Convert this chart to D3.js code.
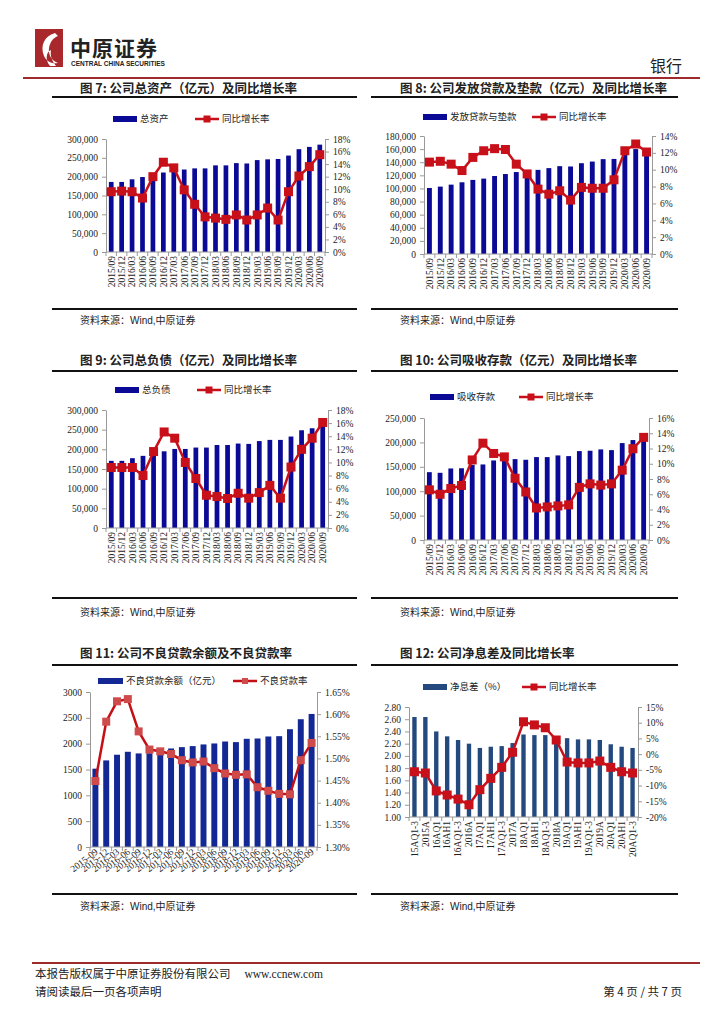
<!DOCTYPE html>
<html><head><meta charset="utf-8">
<script src="https://cdn.jsdelivr.net/npm/d3@7"></script>
<style>
body{margin:0;background:#fff;}
svg text{font-family:"Liberation Serif","Noto Sans CJK SC",serif;fill:#222;}
.cn{font-family:"Noto Sans CJK SC",sans-serif;}
</style></head><body><div id="root"></div>
<script>
// 季度 (图7-10)
const quarters = ['2015/09','2015/12','2016/03','2016/06','2016/09','2016/12','2017/03','2017/06','2017/09','2017/12',
  '2018/03','2018/06','2018/09','2018/12','2019/03','2019/06','2019/09','2019/12','2020/03','2020/06','2020/09'];
// 图7 总资产 + 同比
const assets = [186000,186000,193000,199000,203000,211000,218000,219000,222000,222000,230000,230000,236000,235000,244000,246000,247000,256000,273000,279000,285000];
const assetsYoy = [9.6,9.7,9.6,8.6,12.0,14.3,13.4,9.9,7.6,5.6,5.4,5.2,5.9,5.1,5.9,7.0,5.1,9.6,12.1,13.6,15.5];
// 图8 发放贷款与垫款 + 同比
const loans = [100700,102800,105800,109400,113000,115000,119000,122000,125000,128000,128300,131000,134000,133500,138500,141000,144700,145000,152000,160000,157000];
const loansYoy = [10.9,11.0,10.66,9.9,11.46,12.25,12.5,12.4,10.66,9.5,7.7,7.1,7.5,6.4,7.9,7.8,7.8,8.8,12.25,13.05,12.1];
// 图9 总负债 + 同比
const liab = [170700,170700,177500,183400,192000,195000,201000,201000,204500,204500,211000,211000,214700,213800,221000,224000,224000,232500,248500,253600,265000];
const liabYoy = [9.23,9.23,9.23,8.0,11.66,14.65,13.7,10.0,7.55,5.0,4.8,4.5,5.3,4.55,5.4,6.5,4.55,9.3,12.0,13.7,16.1];
// 图10 吸收存款 + 同比
const deposits = [139000,137700,146600,147000,154000,154800,163000,166000,165750,164400,169900,169900,173300,171900,182200,182900,185600,184200,198600,204800,210000];
const depositsYoy = [6.58,6.0,6.75,7.15,10.5,12.7,11.35,10.9,8.1,6.3,4.2,4.34,4.47,4.6,6.9,7.36,7.2,7.36,9.16,11.97,13.46];
// 图11 不良贷款余额 + 不良贷款率
const nplCats = ['2015-09','2015-12','2016-03','2016-06','2016-09','2016-12','2017-03','2017-06','2017-09','2017-12',
  '2018-03','2018-06','2018-09','2018-12','2019-03','2019-06','2019-09','2019-12','2020-03','2020-06','2020-09'];
const npl = [1516,1676,1786,1843,1811,1815,1870,1907,1933,1953,1985,2004,2042,2030,2094,2100,2139,2145,2280,2473,2575];
const nplRate = [1.449,1.583,1.629,1.634,1.561,1.520,1.516,1.510,1.496,1.491,1.493,1.478,1.466,1.463,1.464,1.435,1.427,1.420,1.419,1.496,1.535];
// 图12 净息差 + 同比
const nimCats = ['15AQ1-3','2015A','16AQ1','16AH1','16AQ1-3','2016A','17AQ1','17AH1','17AQ1-3','2017A',
  '18AQ1','18AH1','18AQ1-3','2018A','19AQ1','19AH1','19AQ1-3','2019A','20AQ1','20AH1','20AQ1-3'];
const nim = [2.636,2.636,2.40,2.32,2.26,2.20,2.13,2.15,2.16,2.21,2.35,2.34,2.34,2.28,2.29,2.27,2.27,2.26,2.19,2.15,2.13];
const nimYoy = [-5.6,-6.0,-11.7,-13.0,-14.3,-16.1,-11.3,-7.7,-4.2,0.6,10.3,9.3,8.4,4.5,-2.5,-2.8,-2.8,-2.2,-4.2,-5.6,-6.0];

const svg = d3.select('#root').append('svg').attr('width',724).attr('height',1024);

// ---- 页眉
svg.append('rect').attr('x',35).attr('y',29).attr('width',28).attr('height',38).attr('fill','#a8282b');
svg.append('path').attr('d','M55,33 C44,36 40,46 44,56 C47,62 52,64 58,63 C52,61 48,55 49,48 C50,42 53,38 58,36 Z M50,66 C45,60 46,52 51,50 C50,56 52,61 56,66 Z')
  .attr('fill','#fff');
svg.append('text').attr('class','cn').attr('x',70).attr('y',56).attr('font-size',21).attr('font-weight','bold')
  .attr('letter-spacing',1).text('中原证券');
svg.append('text').attr('x',71).attr('y',66).attr('font-size',6.5).attr('font-weight','bold')
  .style('font-family','Liberation Sans').text('CENTRAL CHINA SECURITIES');
svg.append('text').attr('class','cn').attr('x',682).attr('y',72).attr('text-anchor','end').attr('font-size',16).attr('fill','#333').text('银行');
svg.append('line').attr('x1',23).attr('x2',700).attr('y1',78).attr('y2',78).attr('stroke','#9e2a2b').attr('stroke-width',2);

// ---- 标题 / 资料来源
function section(x, lineX1, lineX2, titleY, lineY, srcLineY, srcY, title) {
  svg.append('text').attr('class','cn').attr('x',x).attr('y',titleY).attr('font-size',12.5).attr('font-weight','bold').text(title);
  svg.append('line').attr('x1',lineX1).attr('x2',lineX2).attr('y1',lineY).attr('y2',lineY).attr('stroke','#111').attr('stroke-width',2);
  svg.append('line').attr('x1',lineX1).attr('x2',lineX2).attr('y1',srcLineY).attr('y2',srcLineY).attr('stroke','#111').attr('stroke-width',2);
  const t = svg.append('text').attr('class','cn').attr('x',x).attr('y',srcY).attr('font-size',10).attr('fill','#555');
  t.append('tspan').text('资料来源：');
  t.append('tspan').style('font-family','Liberation Sans').attr('fill','#222').text('Wind,');
  t.append('tspan').text('中原证券');
}
section(80,52,357,93,97,309,324,'图 7:  公司总资产（亿元）及同比增长率');
section(400,371,678,93,97,309,324,'图 8:  公司发放贷款及垫款（亿元）及同比增长率');
section(80,52,357,365,371,598,616,'图 9:  公司总负债（亿元）及同比增长率');
section(400,371,678,365,371,598,616,'图 10:  公司吸收存款（亿元）及同比增长率');
section(80,52,357,658,665,894,910,'图 11:  公司不良贷款余额及不良贷款率');
section(400,371,678,658,665,894,910,'图 12:  公司净息差及同比增长率');

// ---- 通用图表
function drawChart(c) {
  const g = svg.append('g');
  const x = d3.scaleBand().domain(c.cats).range([c.left, c.right]);
  const yL = d3.scaleLinear().domain(c.yL.domain).range([c.bottom, c.top]);
  const yR = d3.scaleLinear().domain(c.yR.domain).range([c.bottom, c.top]);
  const bw = x.bandwidth() * (c.barRatio || 0.45);

  // bars
  g.selectAll('rect.bar').data(c.bars).join('rect')
    .attr('x',(d,i)=> x(c.cats[i]) + (x.bandwidth()-bw)/2)
    .attr('y',d=> yL(d)).attr('width',bw).attr('height',d=> yL(c.yL.domain[0]) - yL(d))
    .attr('fill',c.barColor);

  // axes
  const axL = g.append('g').attr('transform',`translate(${c.left},0)`)
    .call(d3.axisLeft(yL).tickValues(c.yL.ticks).tickFormat(c.yL.fmt).tickSize(4).tickSizeOuter(0).tickPadding(4));
  const axR = g.append('g').attr('transform',`translate(${c.right},0)`)
    .call(d3.axisRight(yR).tickValues(c.yR.ticks).tickFormat(c.yR.fmt).tickSize(4).tickSizeOuter(0).tickPadding(4));
  [axL, axR].forEach(a => {
    a.attr('font-family',null).attr('font-size',null);
    a.selectAll('path,line').attr('stroke','#999');
    a.selectAll('text').attr('font-size',9.5).attr('fill','#333');
  });
  const bottomY = c.bottom;
  g.append('line').attr('x1',c.left).attr('x2',c.right).attr('y1',bottomY).attr('y2',bottomY).attr('stroke','#999');
  const edges = c.cats.map(k => x(k)).concat([c.right]);
  g.selectAll('line.xt').data(edges).join('line')
    .attr('x1',d=>d).attr('x2',d=>d).attr('y1',bottomY).attr('y2',bottomY+4).attr('stroke','#999');

  // x labels
  c.cats.forEach(k => {
    const cx = x(k) + x.bandwidth()/2;
    const t = g.append('text').attr('font-size',9.5).attr('fill','#333').attr('text-anchor','end').text(k);
    if (c.slant) t.attr('transform',`translate(${cx+3},${bottomY+6}) rotate(-38)`);
    else t.attr('transform',`translate(${cx},${bottomY+4}) rotate(-90)`).attr('dy','0.35em');
  });

  // line + markers
  const line = d3.line().x((d,i)=> x(c.cats[i]) + x.bandwidth()/2).y(d=> yR(d));
  g.append('path').datum(c.line).attr('d',line).attr('fill','none').attr('stroke',c.lineColor).attr('stroke-width',2.5);
  const ms = c.markerSize;
  g.selectAll('rect.mk').data(c.line).join('rect')
    .attr('x',(d,i)=> x(c.cats[i]) + x.bandwidth()/2 - ms/2).attr('y',d=> yR(d)-ms/2)
    .attr('width',ms).attr('height',ms).attr('fill',c.markerColor || c.lineColor);

  // legend
  const L = c.legend;
  g.append('rect').attr('x',L.barX).attr('y',L.y-3).attr('width',L.barW || 24).attr('height',6).attr('fill',c.barColor);
  g.append('text').attr('class','cn').attr('x',L.barX + (L.barW||24) + 3).attr('y',L.y).attr('dy','0.35em')
    .attr('font-size',9.5).attr('fill','#333').text(L.barText);
  g.append('line').attr('x1',L.lineX).attr('x2',L.lineX+24).attr('y1',L.y).attr('y2',L.y).attr('stroke',c.lineColor).attr('stroke-width',2.5);
  g.append('rect').attr('x',L.lineX+12-ms/2+1).attr('y',L.y-ms/2+1).attr('width',ms-2).attr('height',ms-2).attr('fill',c.markerColor || c.lineColor);
  g.append('text').attr('class','cn').attr('x',L.lineX+27).attr('y',L.y).attr('dy','0.35em')
    .attr('font-size',9.5).attr('fill','#333').text(L.lineText);
}

const fmtK = d3.format(',');
const pct0 = v => v + '%';
const navy = '#0a0a96', red = '#c8101a';

drawChart({cats:quarters, bars:assets, line:assetsYoy, left:106, right:325, top:139, bottom:252,
  yL:{domain:[0,300000], ticks:d3.range(0,300001,50000), fmt:fmtK},
  yR:{domain:[0,18], ticks:d3.range(0,19,2), fmt:pct0},
  barColor:navy, lineColor:red, markerSize:9,
  legend:{y:119, barX:113, barText:'总资产', lineX:195, lineText:'同比增长率'}});

drawChart({cats:quarters, bars:loans, line:loansYoy, left:424, right:652, top:136, bottom:254,
  yL:{domain:[0,180000], ticks:d3.range(0,180001,20000), fmt:fmtK},
  yR:{domain:[0,14], ticks:d3.range(0,15,2), fmt:pct0},
  barColor:navy, lineColor:red, markerSize:9,
  legend:{y:117, barX:423, barText:'发放贷款与垫款', lineX:532, lineText:'同比增长率'}});

drawChart({cats:quarters, bars:liab, line:liabYoy, left:106, right:328, top:410, bottom:528,
  yL:{domain:[0,300000], ticks:d3.range(0,300001,50000), fmt:fmtK},
  yR:{domain:[0,18], ticks:d3.range(0,19,2), fmt:pct0},
  barColor:navy, lineColor:red, markerSize:9,
  legend:{y:390, barX:115, barText:'总负债', lineX:197, lineText:'同比增长率'}});

drawChart({cats:quarters, bars:deposits, line:depositsYoy, left:424, right:649, top:418, bottom:540,
  yL:{domain:[0,250000], ticks:d3.range(0,250001,50000), fmt:fmtK},
  yR:{domain:[0,16], ticks:d3.range(0,17,2), fmt:pct0},
  barColor:navy, lineColor:red, markerSize:9,
  legend:{y:397, barX:430, barText:'吸收存款', lineX:519, lineText:'同比增长率'}});

drawChart({cats:nplCats, bars:npl, line:nplRate, left:90, right:317, top:692, bottom:847, slant:true, barRatio:0.55,
  yL:{domain:[0,3000], ticks:d3.range(0,3001,500), fmt:d3.format('d')},
  yR:{domain:[1.30,1.65], ticks:[1.30,1.35,1.40,1.45,1.50,1.55,1.60,1.65], fmt:v=> v.toFixed(2)+'%'},
  barColor:'#132894', lineColor:'#c40f14', markerColor:'#cf4b4b', markerSize:8,
  legend:{y:681, barX:98, barW:25, barText:'不良贷款余额（亿元）', lineX:233, lineText:'不良贷款率'}});

drawChart({cats:nimCats, bars:nim, line:nimYoy, left:409, right:638, top:707, bottom:817, barRatio:0.4,
  yL:{domain:[1.0,2.8], ticks:d3.range(0,10).map(i=> 1+i*0.2), fmt:v=> v.toFixed(2)},
  yR:{domain:[-20,15], ticks:d3.range(-20,16,5), fmt:pct0},
  barColor:'#24497e', lineColor:red, markerSize:9,
  legend:{y:687, barX:423, barText:'净息差（%）', lineX:522, lineText:'同比增长率'}});

// ---- 页脚
svg.append('line').attr('x1',32).attr('x2',700).attr('y1',963).attr('y2',963).attr('stroke','#9e2a2b').attr('stroke-width',2);
const f1 = svg.append('text').attr('class','cn').attr('x',35).attr('y',978).attr('font-size',11.5).attr('fill','#333');
f1.append('tspan').text('本报告版权属于中原证券股份有限公司');
f1.append('tspan').attr('dx',14).style('font-family','Liberation Serif').text('www.ccnew.com');
svg.append('text').attr('class','cn').attr('x',35).attr('y',996).attr('font-size',11.5).attr('fill','#333').text('请阅读最后一页各项声明');
svg.append('text').attr('class','cn').attr('x',682).attr('y',996).attr('text-anchor','end').attr('font-size',11.5).attr('fill','#333').text('第 4 页 / 共 7 页');
</script></body></html>
